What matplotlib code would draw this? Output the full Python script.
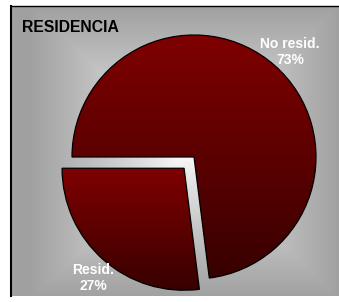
import numpy as np
import matplotlib.pyplot as plt

# datos
categorias = ['No resid.', 'Resid.']
valores = [73, 27]
etiquetas = ['No resid.\n73%', 'Resid.\n27%']
titulo = 'RESIDENCIA'

W, H = 339, 302
fig = plt.figure(figsize=(W / 100, H / 100), dpi=100)
ax = fig.add_axes([0, 0, 1, 1])

# marco del grafico (coordenadas en pixeles, y hacia arriba)
x0, x1 = 11, 339
y0, y1 = H - 296, H - 6

# fondo gris con degradado desde el centro
cx, cy = 185, 150
xx, yy = np.meshgrid(np.linspace(x0, x1, 300), np.linspace(y0, y1, 300))
t = np.maximum(np.abs(xx - cx) / (x1 - cx), np.abs(yy - cy) / (y1 - cy))
t = np.clip(t, 0, 1) ** 0.8
gris = 1.0 - t * (1.0 - 0.63)
bg = np.dstack([gris, gris, gris])
ax.imshow(bg, extent=[x0, x1, y0, y1], origin='lower', zorder=0, interpolation='bilinear')

# tarta (explode en pixeles)
centro = (194, H - 157)
radio = 122
wedges, textos = ax.pie(valores, startangle=180, counterclock=False,
                        explode=[0, 15], center=centro, radius=radio,
                        wedgeprops=dict(edgecolor='black', linewidth=0.9),
                        frame=True)

# degradado rojo vertical en cada porcion
grad = np.linspace(0, 1, 256).reshape(-1, 1)
arriba = np.array([0.50, 0.0, 0.0])
abajo = np.array([0.22, 0.0, 0.0])
img = abajo + (arriba - abajo) * grad[..., None]
for w in wedges:
    w.set_facecolor('none')
    w.set_zorder(3)
    bb = w.get_path().get_extents(w.get_transform() - ax.transData)
    im = ax.imshow(img, extent=[bb.x0, bb.x1, bb.y0, bb.y1], origin='lower',
                   zorder=2, interpolation='bilinear', aspect='auto')
    im.set_clip_path(w)

# etiquetas
ax.text(290, H - 52, etiquetas[0], color='white', fontsize=10, fontweight='bold',
        ha='center', va='center', linespacing=1.2, family='Liberation Sans', zorder=5)
ax.text(93, H - 278, etiquetas[1], color='white', fontsize=10, fontweight='bold',
        ha='center', va='center', linespacing=1.2, family='Liberation Sans', zorder=5)

ax.text(22, H - 27, titulo, color='black', fontsize=11.3, fontweight='bold',
        ha='left', va='center', family='Liberation Sans', zorder=5)

# bordes del marco
ax.plot([x0, x0], [y0, y1], color='black', lw=1.5, zorder=6)
ax.plot([x0, x1], [y1, y1], color='black', lw=1.0, zorder=6)

ax.set_xlim(0, W)
ax.set_ylim(0, H)
ax.set_aspect('auto')
ax.axis('off')

fig.savefig('out.png', dpi=100, facecolor='white')
